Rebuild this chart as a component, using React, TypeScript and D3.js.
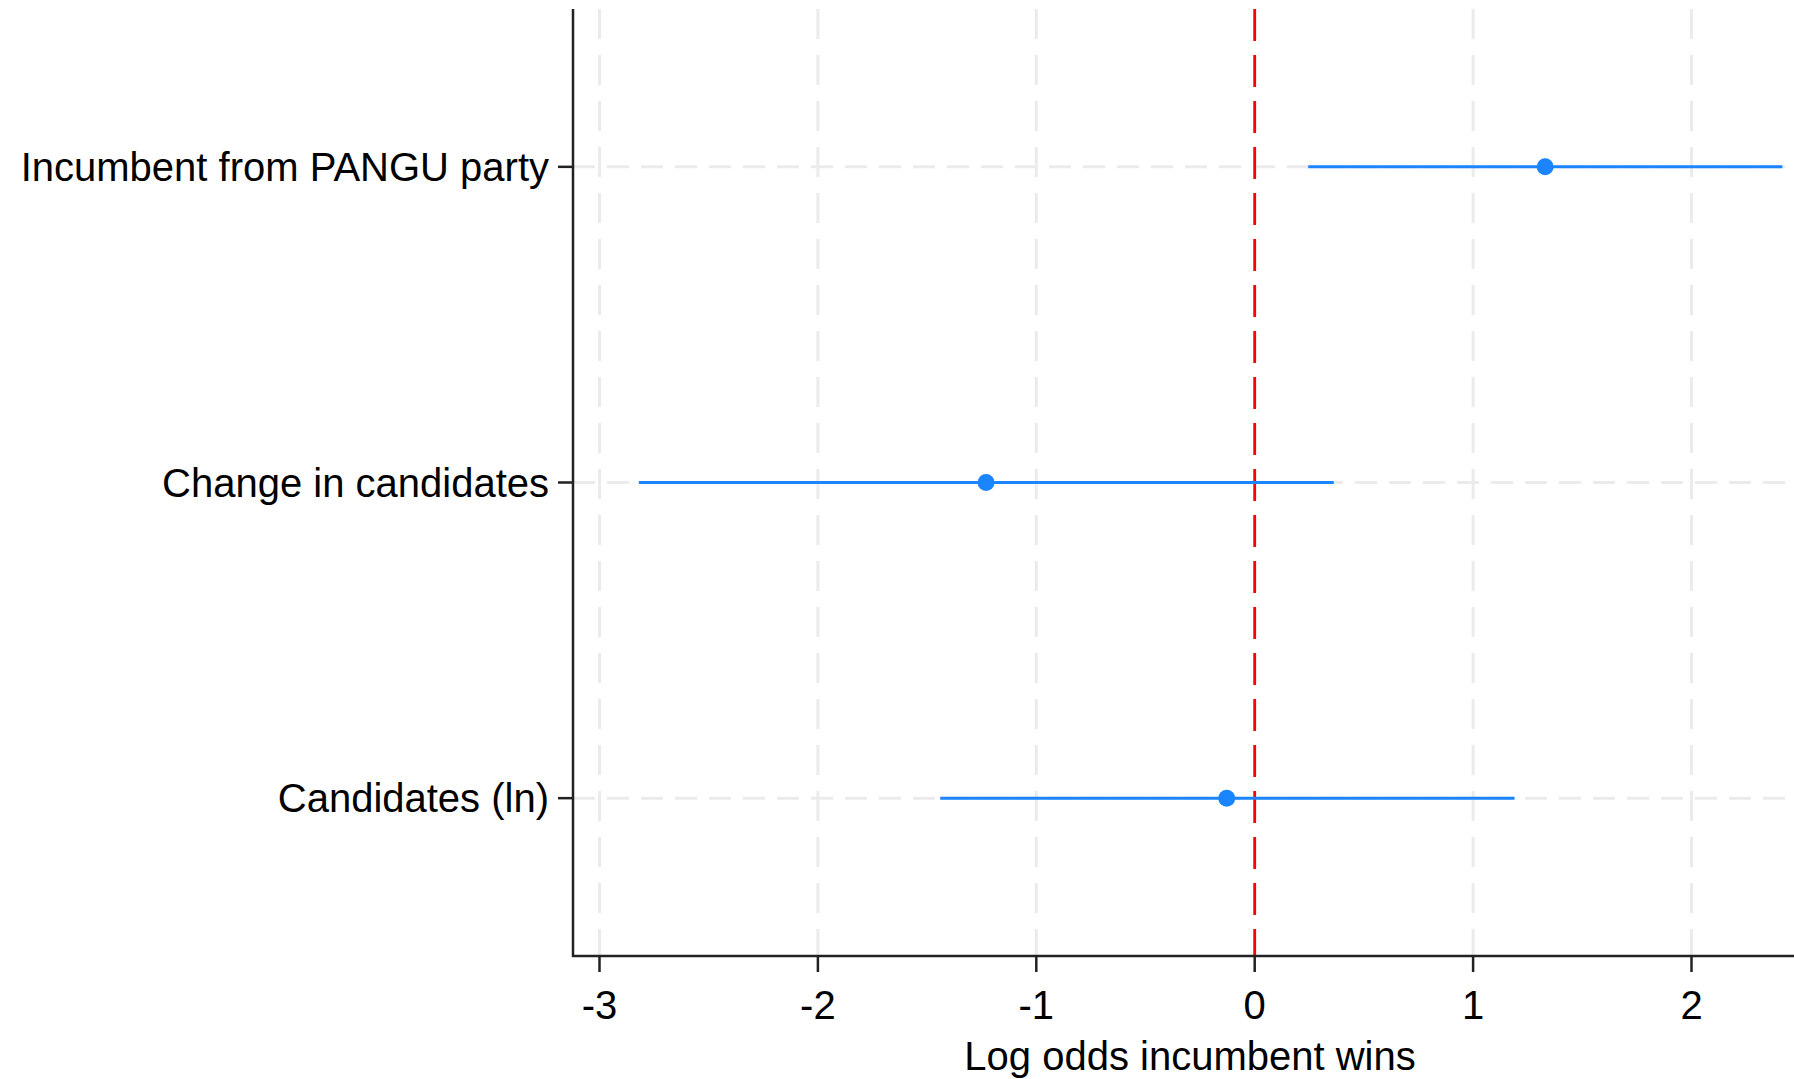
import * as d3 from "d3";

// coefficient plot data
const labels = ["Incumbent from PANGU party", "Change in candidates", "Candidates (ln)"];
const estimates = [1.33, -1.23, -0.128];
const lower = [0.245, -2.82, -1.44];
const upper = [2.416, 0.362, 1.19];
const xTicks = [-3, -2, -1, 0, 1, 2];

const W = 1794;
const H = 1079;
const left = 573;
const top = 9;
const bottom = 956;

export default function App() {
  const x = d3.scaleLinear().domain([-3, 2]).range([599.5, 1691.5]);
  const y = d3.scalePoint().domain(labels).range([top, bottom]).padding(0.5);
  const blue = "#1a85ff";
  const font = "'Liberation Sans', Arial, sans-serif";

  return (
    <svg
      width={W}
      height={H}
      style={{ position: "absolute", left: 0, top: 0, background: "#fff" }}
      fontFamily={font}
    >
      {/* vertical grid */}
      {xTicks.map((t) => (
        <line
          key={"vg" + t}
          x1={x(t)}
          x2={x(t)}
          y1={top}
          y2={bottom}
          stroke="#ebebeb"
          strokeWidth={3}
          strokeDasharray="30,16"
        />
      ))}
      {/* horizontal grid */}
      {labels.map((l) => (
        <line
          key={"hg" + l}
          x1={left}
          x2={W}
          y1={y(l)}
          y2={y(l)}
          stroke="#ebebeb"
          strokeWidth={3}
          strokeDasharray="22,12"
        />
      ))}
      {/* zero reference */}
      <line
        x1={x(0)}
        x2={x(0)}
        y1={top}
        y2={bottom}
        stroke="#ff0000"
        strokeWidth={2.8}
        strokeDasharray="32,14"
      />
      {/* CIs and points */}
      {labels.map((l, i) => (
        <g key={"ci" + l}>
          <line
            x1={x(lower[i])}
            x2={x(upper[i])}
            y1={y(l)}
            y2={y(l)}
            stroke={blue}
            strokeWidth={3}
          />
          <circle cx={x(estimates[i])} cy={y(l)} r={8.5} fill={blue} />
        </g>
      ))}
      {/* axes */}
      <line x1={left} x2={left} y1={top} y2={bottom + 1} stroke="#222" strokeWidth={2.5} />
      <line x1={left - 1} x2={W} y1={bottom} y2={bottom} stroke="#222" strokeWidth={2.5} />
      {labels.map((l) => (
        <g key={"yl" + l}>
          <line x1={left - 15} x2={left} y1={y(l)} y2={y(l)} stroke="#222" strokeWidth={2.5} />
          <text
            x={left - 24}
            y={y(l)}
            textAnchor="end"
            dominantBaseline="central"
            fontSize={40}
            fill="#000"
          >
            {l}
          </text>
        </g>
      ))}
      {xTicks.map((t) => (
        <g key={"xt" + t}>
          <line x1={x(t)} x2={x(t)} y1={bottom} y2={bottom + 16} stroke="#222" strokeWidth={2.5} />
          <text
            x={x(t)}
            y={bottom + 49}
            textAnchor="middle"
            dominantBaseline="central"
            fontSize={40}
            fill="#000"
          >
            {t}
          </text>
        </g>
      ))}
      <text
        x={1190}
        y={1056}
        textAnchor="middle"
        dominantBaseline="central"
        fontSize={40}
        fill="#000"
      >
        Log odds incumbent wins
      </text>
    </svg>
  );
}
